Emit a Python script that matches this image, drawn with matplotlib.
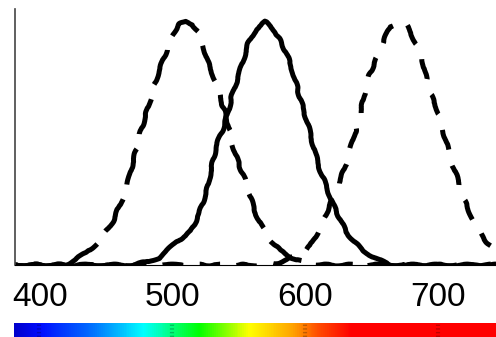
import numpy as np
import matplotlib.pyplot as plt
from matplotlib.colors import LinearSegmentedColormap

plt.rcParams['font.family'] = ['Liberation Sans', 'DejaVu Sans']
plt.rcParams['lines.scale_dashes'] = False

# short-wave cone (dashed)
s_wl = [381, 420, 425, 435, 445, 455, 465, 475, 481, 488, 494, 500, 505, 510,
        515, 520, 524, 528, 533, 537, 541, 545, 549, 556, 562, 571, 581, 590,
        600, 610, 740]
s_val = [0, 0, 0.02, 0.05, 0.10, 0.18, 0.31, 0.53, 0.64, 0.77, 0.86, 0.95, 0.99,
         1.0, 0.99, 0.95, 0.885, 0.81, 0.75, 0.67, 0.60, 0.50, 0.43, 0.33, 0.22,
         0.12, 0.06, 0.03, 0.01, 0, 0]

# medium-wave cone (solid)
m_wl = [381, 470, 478, 490, 503, 514, 520, 526, 529, 533, 538, 541, 545, 551,
        557, 563, 570, 578, 586, 591, 596, 602, 610, 621, 631, 643, 656, 664, 744]
m_val = [0, 0, 0.01, 0.03, 0.095, 0.14, 0.21, 0.31, 0.39, 0.49, 0.56, 0.61, 0.70,
         0.80, 0.91, 0.97, 1.0, 0.955, 0.87, 0.79, 0.69, 0.58, 0.41, 0.25, 0.135,
         0.06, 0.02, 0, 0]

# long-wave cone (dashed)
l_wl = [381, 570, 580, 590, 598, 604, 609, 615, 622, 630, 637, 642, 645, 649,
        654, 660, 664, 670, 676, 681, 688, 690, 694, 699, 704, 710, 714, 719,
        723, 730, 737, 740]
l_val = [0, 0, 0.01, 0.03, 0.05, 0.08, 0.13, 0.20, 0.29, 0.40, 0.53, 0.63, 0.71,
         0.79, 0.85, 0.93, 0.98, 1.0, 0.99, 0.94, 0.86, 0.80, 0.71, 0.65, 0.555,
         0.43, 0.37, 0.28, 0.23, 0.15, 0.095, 0.08]

ticks = [400, 500, 600, 700]

# spectrum strip colours
spec_wl = [381, 400, 440, 478, 520, 558, 590, 610, 635, 744]
spec_rgb = [(0, 0, 0.8), (0, 0.05, 1), (0, 0.45, 1), (0, 1, 1), (0, 1, 0),
            (1, 1, 0), (1, 0.65, 0), (1, 0.3, 0), (1, 0, 0), (1, 0, 0)]

xmin, xmax = 381, 744

fig = plt.figure(figsize=(4.96, 3.37), dpi=100)
ax = fig.add_axes([0.030, 0.2136, 0.970, 0.760])

for wl, val, ls in [(s_wl, s_val, (0, (27, 11))),
                    (m_wl, m_val, '-'),
                    (l_wl, l_val, (0, (15, 12)))]:
    ln, = ax.plot(wl, val, color='black', lw=3.6, ls=ls,
                  solid_capstyle='butt', dash_capstyle='butt')
    ln.set_sketch_params(scale=0.9, length=32, randomness=3)

ax.set_xlim(xmin, xmax)
ax.set_ylim(0, 1.053)
ax.set_xticks(ticks)
ax.set_yticks([])
ax.tick_params(axis='x', length=0, pad=12, labelsize=24)
ax.spines['top'].set_visible(False)
ax.spines['right'].set_visible(False)
ax.spines['left'].set_color('#444444')
ax.spines['left'].set_linewidth(1.2)
ax.spines['bottom'].set_linewidth(0.8)

# spectrum strip
cax = fig.add_axes([0.028, 0.0, 0.972, 0.0415])
pos = [(w - xmin) / (xmax - xmin) for w in spec_wl]
cmap = LinearSegmentedColormap.from_list('spec', list(zip(pos, spec_rgb)))
cax.imshow(np.linspace(0, 1, 500)[None, :], aspect='auto', cmap=cmap,
           extent=[xmin, xmax, 0, 1])
for t in ticks:
    cax.axvline(t, color='black', alpha=0.25, lw=3, ls=':')
cax.set_xlim(xmin, xmax)
cax.axis('off')

fig.savefig('out.png', dpi=100)
